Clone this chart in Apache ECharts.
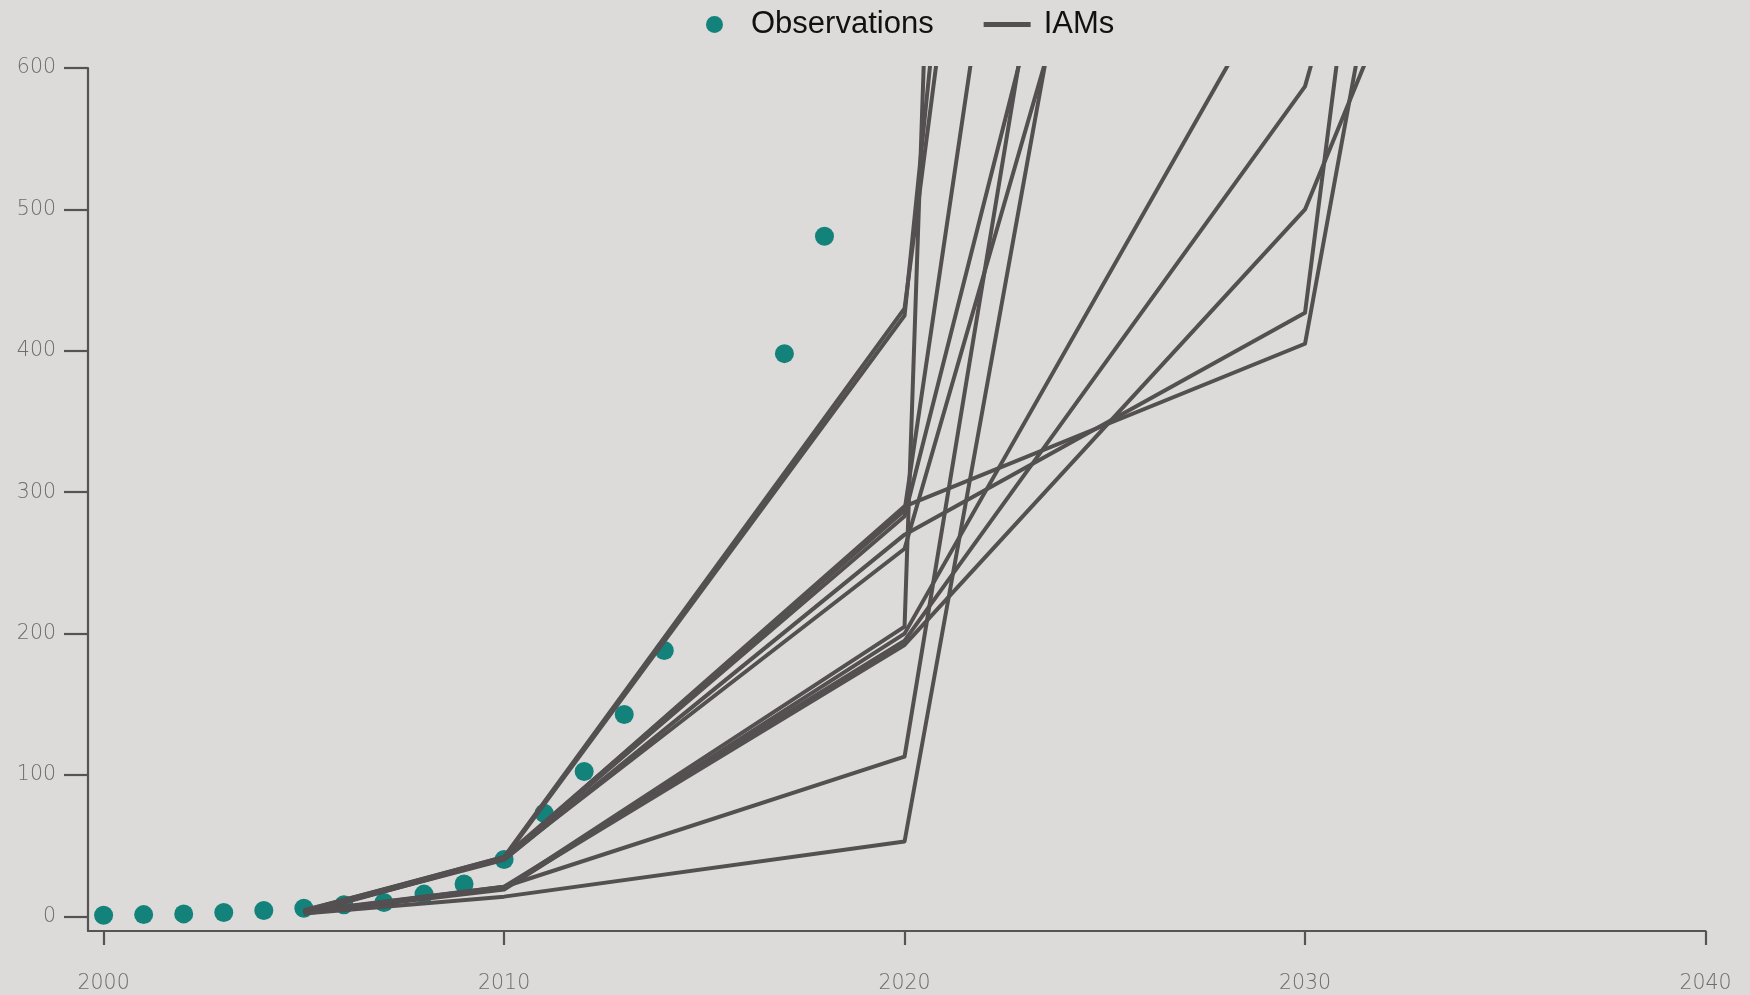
<!DOCTYPE html>
<html>
<head>
<meta charset="utf-8">
<script src="https://cdn.jsdelivr.net/npm/echarts@6/dist/echarts.min.js"></script>
<style>
html,body{margin:0;padding:0;background:#dcdbd9;}
#chart{width:1750px;height:995px;}
</style>
</head>
<body>
<div id="chart"></div>
<script>
// Observations
const obsYears = [2000,2001,2002,2003,2004,2005,2006,2007,2008,2009,2010,2011,2012,2013,2014,2017,2018];
const obsValues = [0.8,1.3,1.8,2.8,4.2,5.8,8.2,9.8,15.8,23,40.3,73,102.5,142.8,188,398,481];

// IAM scenario years and values (values beyond 600 are off the top of the chart)
const iamYears = [2005,2010,2020,2030,2040];
const iamA = [3.5,42,430,2610,null];
const iamB = [2.5,41,425,3200,null];
const iamC = [3,41,290,405,1955];
const iamD = [4,42,287,2200,null];
const iamE = [2,41,283,1400,null];
const iamF = [3,40,270,427,2650];
const iamG = [4.5,41,260,1240,null];
const iamH = [3,20,205,8500,null];
const iamI = [2.5,19,200,698,null];
const iamJ = [3.5,21,195,587,1590];
const iamK = [2,20,192,500,1190];
const iamL = [3,21,113,1830,null];
const iamM = [2,14,53,1620,null];
const iamList = [iamA,iamB,iamC,iamD,iamE,iamF,iamG,iamH,iamI,iamJ,iamK,iamL,iamM];

// Tick labels
const xTicks = [2000,2010,2020,2030,2040];
const yTicks = [0,100,200,300,400,500,600];

const axisColor = '#575354';
const lineColor = '#544f50';
const obsColor = '#13827a';
const labelStyle = {fontSize:20.5,color:'#6f6c6c',fontFamily:'DejaVu Sans',fontWeight:300};

const series = [{
  name:'Observations',
  type:'scatter',
  symbol:'circle',
  symbolSize:19,
  itemStyle:{color:obsColor,opacity:1},
  z:1,
  data: obsYears.map((y,i)=>[y,obsValues[i]])
}];
iamList.forEach(vals=>{
  series.push({
    name:'IAMs',
    type:'line',
    symbol:'none',
    showSymbol:false,
    clip:true,
    z:3,
    lineStyle:{color:lineColor,width:4,join:'round'},
    itemStyle:{color:lineColor},
    data: iamYears.map((y,i)=>[y,vals[i]]).filter(p=>p[1]!==null)
  });
});

const chart = echarts.init(document.getElementById('chart'),null,{renderer:'canvas'});
chart.setOption({
  backgroundColor:'#dcdbd9',
  animation:false,
  legend:{
    left:701, top:4,
    itemWidth:47, itemHeight:17, itemGap:50,
    textStyle:{fontSize:31,color:'#111',fontFamily:'Liberation Sans',padding:[0,0,0,8]},
    data:[
      {name:'Observations',icon:'circle'},
      {name:'IAMs',icon:'path://M0,0L0.01,0M47,17L46.99,17M0,6L47,6L47,11L0,11Z',itemStyle:{color:lineColor,borderWidth:0}}
    ]
  },
  grid:{left:88,right:44.5,top:68,bottom:64,containLabel:false},
  xAxis:{
    type:'value', min:1999.61, max:2040,
    axisLine:{show:true,onZero:false,lineStyle:{color:axisColor,width:2.2}},
    axisTick:{show:true,length:14,lineStyle:{color:axisColor,width:2.2},customValues:xTicks},
    axisLabel:Object.assign({customValues:xTicks,margin:42,formatter:v=>String(v)},labelStyle),
    splitLine:{show:false}
  },
  yAxis:{
    type:'value', min:-10.3, max:600,
    axisLine:{show:true,onZero:false,lineStyle:{color:axisColor,width:2.2}},
    axisTick:{show:true,length:24,lineStyle:{color:axisColor,width:2.2},customValues:yTicks},
    axisLabel:Object.assign({customValues:yTicks,margin:32,formatter:v=>String(v)},labelStyle),
    splitLine:{show:false}
  },
  series:series
});
</script>
</body>
</html>
